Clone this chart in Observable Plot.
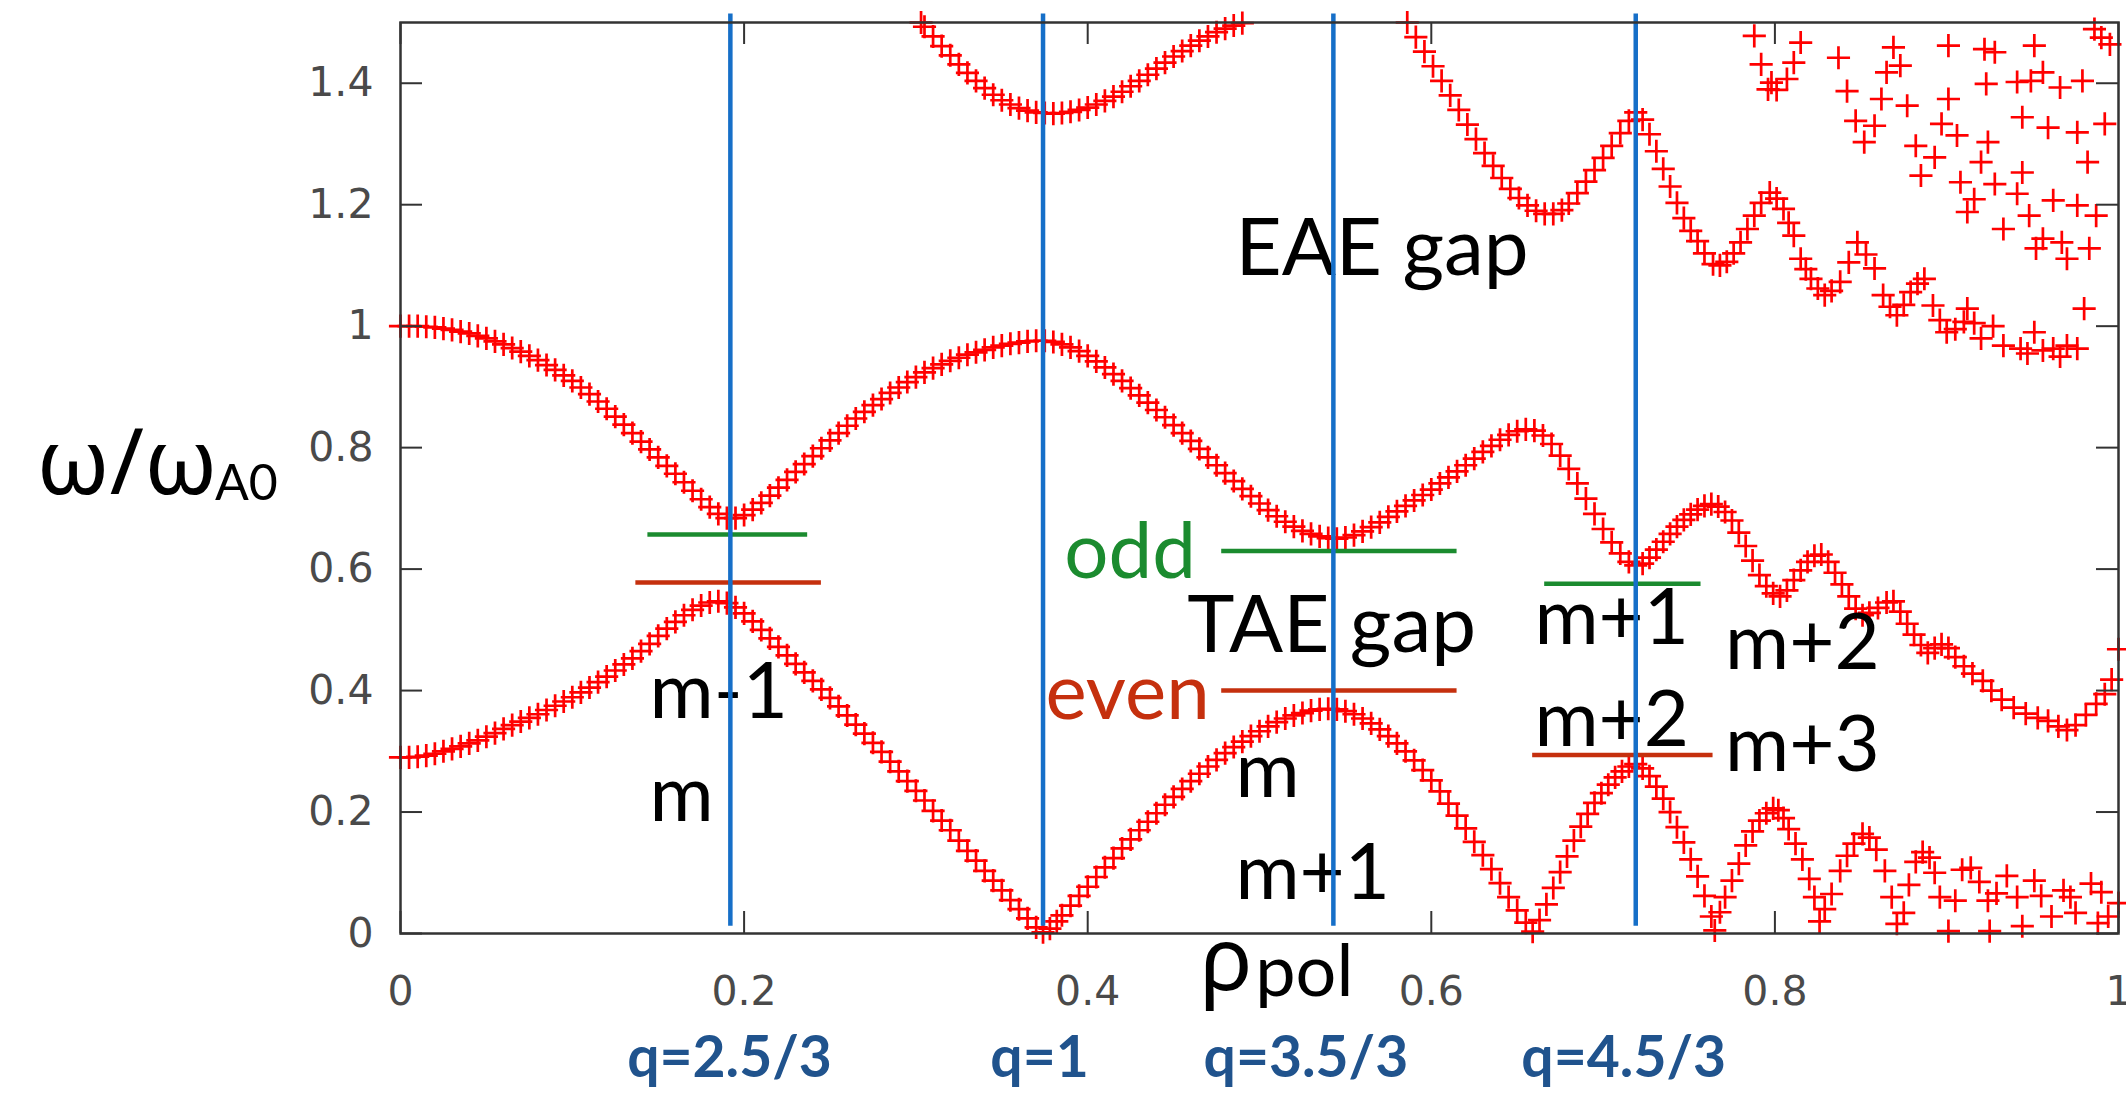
<!DOCTYPE html>
<html>
<head>
<meta charset="utf-8">
<script src="https://cdn.jsdelivr.net/npm/d3@7"></script>
<script src="https://cdn.jsdelivr.net/npm/@observablehq/plot@0.6"></script>
<style>
  html, body { margin: 0; padding: 0; background: #fff; }
</style>
</head>
<body>
<div id="chart"></div>
<script>
// Shear Alfvén continuum: normalised frequency ω/ωA0 against ρpol, each [ρpol, ω/ωA0].

// lowest continuum branch (m / m-1 coupling, touching zero at q=1 and beyond)
const lowerBranch = [
  [0.000,0.290],[0.005,0.290],[0.010,0.291],[0.015,0.293],[0.020,0.296],[0.025,0.300],[0.030,0.304],[0.035,0.308],
  [0.040,0.313],[0.045,0.318],[0.050,0.324],[0.055,0.330],[0.060,0.337],[0.065,0.343],[0.070,0.349],[0.075,0.355],
  [0.080,0.361],[0.085,0.368],[0.090,0.375],[0.095,0.382],[0.100,0.389],[0.105,0.397],[0.110,0.405],[0.115,0.414],
  [0.120,0.423],[0.125,0.433],[0.130,0.443],[0.135,0.453],[0.140,0.465],[0.145,0.477],[0.150,0.490],[0.155,0.502],
  [0.160,0.513],[0.165,0.524],[0.170,0.533],[0.175,0.540],[0.180,0.545],[0.185,0.547],[0.190,0.544],[0.195,0.537],
  [0.200,0.527],[0.205,0.514],[0.210,0.500],[0.215,0.486],[0.220,0.472],[0.225,0.458],[0.230,0.444],[0.235,0.430],
  [0.240,0.416],[0.245,0.402],[0.250,0.388],[0.255,0.374],[0.260,0.359],[0.265,0.344],[0.270,0.329],[0.275,0.314],
  [0.280,0.299],[0.285,0.283],[0.290,0.267],[0.295,0.251],[0.300,0.235],[0.305,0.219],[0.310,0.202],[0.315,0.186],
  [0.320,0.170],[0.325,0.153],[0.330,0.136],[0.335,0.120],[0.340,0.103],[0.345,0.087],[0.350,0.071],[0.355,0.055],
  [0.360,0.040],[0.365,0.025],[0.370,0.010],[0.374,0.002],[0.378,0.008],[0.382,0.020],[0.385,0.030],[0.390,0.046],
  [0.395,0.062],[0.400,0.077],[0.405,0.093],[0.410,0.109],[0.415,0.124],[0.420,0.140],[0.425,0.155],[0.430,0.170],
  [0.435,0.184],[0.440,0.198],[0.445,0.212],[0.450,0.225],[0.455,0.238],[0.460,0.251],[0.465,0.263],[0.470,0.275],
  [0.475,0.286],[0.480,0.297],[0.485,0.307],[0.490,0.316],[0.495,0.325],[0.500,0.333],[0.505,0.341],[0.510,0.348],
  [0.515,0.354],[0.520,0.359],[0.525,0.363],[0.530,0.367],[0.535,0.369],[0.540,0.370],[0.545,0.369],[0.550,0.366],
  [0.555,0.361],[0.560,0.354],[0.565,0.346],[0.570,0.336],[0.575,0.325],[0.580,0.313],[0.585,0.300],[0.590,0.285],
  [0.595,0.269],[0.600,0.252],[0.605,0.234],[0.610,0.214],[0.615,0.194],[0.620,0.173],[0.625,0.151],[0.630,0.129],
  [0.635,0.106],[0.640,0.083],[0.645,0.060],[0.650,0.038],[0.655,0.018],[0.659,0.003],[0.663,0.022],[0.667,0.048],
  [0.671,0.075],[0.675,0.101],[0.679,0.127],[0.683,0.153],[0.687,0.176],[0.691,0.197],[0.695,0.215],[0.699,0.231],
  [0.703,0.245],[0.707,0.257],[0.711,0.267],[0.715,0.275],[0.719,0.279],[0.723,0.272],[0.727,0.259],[0.731,0.242],
  [0.735,0.222],[0.739,0.200],[0.743,0.175],[0.747,0.150],[0.751,0.122],[0.755,0.094],[0.759,0.062],[0.763,0.028],
  [0.765,0.005],[0.768,0.035],[0.771,0.060],[0.775,0.087],[0.779,0.115],[0.783,0.145],[0.787,0.168],[0.791,0.186],
  [0.795,0.198],[0.799,0.206],[0.802,0.203],[0.805,0.190],[0.808,0.172],[0.812,0.148],[0.816,0.122],[0.820,0.090],
  [0.823,0.060],[0.826,0.020],[0.829,0.040],[0.833,0.065],[0.838,0.103],[0.842,0.128],[0.846,0.148],[0.851,0.164],
  [0.855,0.158],[0.859,0.138],[0.864,0.103],[0.868,0.060],[0.871,0.016],[0.875,0.034],[0.878,0.080],[0.882,0.118],
  [0.886,0.134],[0.890,0.125],[0.893,0.100],[0.896,0.060],[0.901,0.004],[0.905,0.054],[0.909,0.105],[0.914,0.108],
  [0.919,0.085],[0.924,0.054],[0.925,0.004],[0.929,0.066],[0.935,0.095],[0.941,0.060],[0.944,0.012],[0.951,0.087],
  [0.955,0.062],[0.961,0.028],[0.968,0.071],[0.972,0.060],[0.975,0.034],[0.984,0.082],[0.988,0.017],[0.990,0.068],
  [0.994,0.028],[1.000,0.050]
];

// middle branch (TAE gap upper boundary, wiggling towards the edge)
const middleBranch = [
  [0.000,1.000],[0.005,1.000],[0.010,1.000],[0.015,0.999],[0.020,0.998],[0.025,0.996],[0.030,0.994],[0.035,0.991],
  [0.040,0.988],[0.045,0.984],[0.050,0.980],[0.055,0.975],[0.060,0.970],[0.065,0.964],[0.070,0.958],[0.075,0.951],
  [0.080,0.944],[0.085,0.936],[0.090,0.928],[0.095,0.919],[0.100,0.910],[0.105,0.899],[0.110,0.888],[0.115,0.876],
  [0.120,0.864],[0.125,0.851],[0.130,0.838],[0.135,0.824],[0.140,0.810],[0.145,0.797],[0.150,0.784],[0.155,0.770],
  [0.160,0.757],[0.165,0.743],[0.170,0.729],[0.175,0.715],[0.180,0.702],[0.185,0.691],[0.190,0.684],[0.195,0.684],
  [0.200,0.689],[0.205,0.698],[0.210,0.709],[0.215,0.721],[0.220,0.734],[0.225,0.747],[0.230,0.760],[0.235,0.773],
  [0.240,0.786],[0.245,0.799],[0.250,0.812],[0.255,0.824],[0.260,0.836],[0.265,0.848],[0.270,0.859],[0.275,0.870],
  [0.280,0.880],[0.285,0.890],[0.290,0.899],[0.295,0.908],[0.300,0.916],[0.305,0.924],[0.310,0.931],[0.315,0.937],
  [0.320,0.943],[0.325,0.948],[0.330,0.953],[0.335,0.957],[0.340,0.961],[0.345,0.965],[0.350,0.968],[0.355,0.971],
  [0.360,0.973],[0.365,0.975],[0.370,0.976],[0.375,0.976],[0.380,0.974],[0.385,0.970],[0.390,0.965],[0.395,0.959],
  [0.400,0.951],[0.405,0.942],[0.410,0.932],[0.415,0.921],[0.420,0.910],[0.425,0.898],[0.430,0.886],[0.435,0.874],
  [0.440,0.862],[0.445,0.850],[0.450,0.837],[0.455,0.824],[0.460,0.811],[0.465,0.798],[0.470,0.784],[0.475,0.771],
  [0.480,0.758],[0.485,0.745],[0.490,0.732],[0.495,0.720],[0.500,0.708],[0.505,0.697],[0.510,0.687],[0.515,0.678],
  [0.520,0.670],[0.525,0.663],[0.530,0.658],[0.535,0.654],[0.540,0.651],[0.545,0.650],[0.550,0.652],[0.555,0.656],
  [0.560,0.662],[0.565,0.669],[0.570,0.677],[0.575,0.686],[0.580,0.695],[0.585,0.704],[0.590,0.713],[0.595,0.722],
  [0.600,0.731],[0.605,0.741],[0.610,0.751],[0.615,0.761],[0.620,0.771],[0.625,0.782],[0.630,0.793],[0.635,0.803],
  [0.640,0.813],[0.645,0.821],[0.650,0.827],[0.655,0.830],[0.660,0.828],[0.665,0.820],[0.670,0.806],[0.675,0.787],
  [0.680,0.765],[0.685,0.741],[0.690,0.716],[0.695,0.691],[0.700,0.666],[0.705,0.644],[0.710,0.626],[0.715,0.612],
  [0.719,0.606],[0.723,0.609],[0.727,0.619],[0.731,0.632],[0.735,0.645],[0.739,0.658],[0.743,0.670],[0.747,0.681],
  [0.751,0.690],[0.755,0.698],[0.759,0.704],[0.763,0.707],[0.767,0.703],[0.771,0.694],[0.775,0.680],[0.779,0.660],
  [0.783,0.638],[0.787,0.614],[0.791,0.590],[0.795,0.572],[0.799,0.560],[0.803,0.555],[0.807,0.565],[0.811,0.582],
  [0.815,0.598],[0.819,0.612],[0.823,0.622],[0.827,0.624],[0.831,0.612],[0.835,0.594],[0.839,0.575],[0.843,0.555],
  [0.847,0.535],[0.851,0.524],[0.855,0.528],[0.860,0.536],[0.865,0.545],[0.869,0.547],[0.873,0.530],[0.877,0.510],
  [0.881,0.492],[0.885,0.475],[0.889,0.462],[0.893,0.470],[0.897,0.476],[0.901,0.470],[0.905,0.455],[0.910,0.440],
  [0.915,0.428],[0.921,0.416],[0.926,0.400],[0.932,0.385],[0.939,0.372],[0.946,0.362],[0.953,0.355],[0.959,0.350],
  [0.965,0.341],[0.970,0.335],[0.975,0.343],[0.981,0.360],[0.987,0.378],[0.992,0.394],[0.996,0.418],[1.000,0.468]
];

// upper branch around q=1
const upperBranch = [
  [0.303,1.500],[0.305,1.493],[0.310,1.477],[0.315,1.461],[0.320,1.446],[0.325,1.431],[0.330,1.417],[0.335,1.404],
  [0.340,1.392],[0.345,1.381],[0.350,1.372],[0.355,1.365],[0.360,1.359],[0.365,1.355],[0.370,1.352],[0.375,1.351],
  [0.380,1.350],[0.385,1.351],[0.390,1.353],[0.395,1.356],[0.400,1.360],[0.405,1.365],[0.410,1.371],[0.415,1.378],
  [0.420,1.386],[0.425,1.395],[0.430,1.404],[0.435,1.414],[0.440,1.424],[0.445,1.434],[0.450,1.444],[0.455,1.453],
  [0.460,1.462],[0.465,1.470],[0.470,1.477],[0.475,1.484],[0.480,1.490],[0.485,1.495],[0.490,1.499]
];

// EAE gap upper boundary, outer region
const eaeBranch = [
  [0.586,1.500],[0.591,1.476],[0.596,1.452],[0.601,1.428],[0.606,1.404],[0.611,1.380],[0.616,1.356],[0.621,1.332],
  [0.626,1.308],[0.631,1.285],[0.636,1.264],[0.641,1.244],[0.646,1.226],[0.651,1.211],[0.656,1.199],[0.661,1.190],
  [0.666,1.185],[0.671,1.185],[0.676,1.191],[0.680,1.202],[0.685,1.219],[0.690,1.238],[0.695,1.257],
  [0.700,1.277],[0.705,1.297],[0.710,1.318],[0.715,1.338],[0.719,1.352],[0.723,1.340],[0.727,1.316],[0.731,1.288],
  [0.735,1.259],[0.739,1.230],[0.743,1.203],[0.747,1.178],[0.751,1.157],[0.755,1.140],[0.759,1.120],[0.764,1.102],
  [0.768,1.100],[0.772,1.106],[0.776,1.120],[0.780,1.138],[0.784,1.160],[0.788,1.182],[0.792,1.203],[0.797,1.220],
  [0.801,1.210],[0.805,1.193],[0.808,1.170],[0.811,1.149],[0.815,1.111],[0.818,1.094],[0.821,1.078],[0.825,1.062],
  [0.829,1.051],[0.833,1.058],[0.838,1.073],[0.843,1.105],[0.848,1.138],[0.853,1.118],[0.858,1.095],[0.863,1.051],
  [0.867,1.032],[0.871,1.018],[0.875,1.035],[0.879,1.056],[0.883,1.070],[0.887,1.078],[0.892,1.034],[0.896,1.010],
  [0.900,0.990],[0.905,0.995],[0.910,1.007],[0.912,1.029],[0.916,1.005],[0.920,0.980],[0.927,1.000],[0.933,0.968],
  [0.943,0.963],[0.947,0.955],[0.951,0.990],[0.956,0.960],[0.962,0.963],[0.966,0.950],[0.970,0.968],[0.976,0.963],
  [0.980,1.029]
];

// scattered high-frequency eigenvalues near the edge
const outerScatter = [
  [0.788,1.478],[0.815,1.467],[0.792,1.431],[0.811,1.434],[0.798,1.401],[0.807,1.407],[0.801,1.389],[0.796,1.390],
  [0.837,1.442],[0.842,1.387],[0.869,1.459],[0.873,1.429],[0.865,1.418],[0.862,1.374],[0.877,1.363],[0.901,1.462],
  [0.901,1.374],[0.922,1.456],[0.928,1.451],[0.951,1.462],[0.986,1.489],[0.990,1.475],[0.995,1.464],[0.923,1.399],
  [0.941,1.402],[0.949,1.404],[0.956,1.418],[0.966,1.393],[0.979,1.404],[0.847,1.338],[0.858,1.330],[0.852,1.303],
  [0.897,1.333],[0.906,1.314],[0.882,1.297],[0.893,1.278],[0.924,1.303],[0.944,1.344],[0.959,1.327],[0.976,1.319],
  [0.992,1.333],[0.982,1.270],[0.885,1.248],[0.908,1.237],[0.920,1.270],[0.928,1.234],[0.944,1.253],[0.916,1.209],
  [0.912,1.188],[0.941,1.218],[0.962,1.207],[0.976,1.199],[0.987,1.182],[0.948,1.182],[0.933,1.160],[0.956,1.144],
  [0.952,1.128],[0.967,1.138],[0.970,1.111],[0.983,1.128]
];

// rational surfaces
const rationalSurfaces = [0.192, 0.374, 0.543, 0.719];
const qLabels = ["q=2.5/3", "q=1", "q=3.5/3", "q=4.5/3"];
const qLabelRho = [0.1915, 0.372, 0.527, 0.712];

// gap edges: odd (upper) and even (lower) frequencies with their radial extent
const oddGapOmega = [0.657, 0.630, 0.576];
const oddGapFrom = [0.144, 0.478, 0.666];
const oddGapTo = [0.237, 0.615, 0.757];
const evenGapOmega = [0.578, 0.400, 0.294];
const evenGapFrom = [0.137, 0.478, 0.659];
const evenGapTo = [0.245, 0.615, 0.764];

// poloidal mode annotations
const modeText = ["m-1", "m", "m", "m+1", "m+1", "m+2", "m+2", "m+3"];
const modeRho = [0.145, 0.145, 0.486, 0.486, 0.660, 0.660, 0.771, 0.771];
const modeOmega = [0.355, 0.186, 0.2245, 0.0575, 0.476, 0.309, 0.435, 0.268];

const gapText = ["EAE gap", "TAE gap"];
const gapRho = [0.486, 0.458];
const gapOmega = [1.084, 0.463];

const xTicks = [0, 0.2, 0.4, 0.6, 0.8, 1];
const yTicks = [0, 0.2, 0.4, 0.6, 0.8, 1, 1.2, 1.4];

// ---- tables for the marks ----
const spectrum = [lowerBranch, middleBranch, upperBranch, eaeBranch, outerScatter]
  .flat().map(([rho, omega]) => ({rho, omega}));
const oddGaps = oddGapOmega.map((omega, i) => ({omega, rho1: oddGapFrom[i], rho2: oddGapTo[i]}));
const evenGaps = evenGapOmega.map((omega, i) => ({omega, rho1: evenGapFrom[i], rho2: evenGapTo[i]}));
const modes = modeText.map((text, i) => ({text, rho: modeRho[i], omega: modeOmega[i]}));
const gaps = gapText.map((text, i) => ({text, rho: gapRho[i], omega: gapOmega[i]}));
const qMarks = qLabels.map((text, i) => ({text, rho: qLabelRho[i]}));

const W = 2126, H = 1097;
const M = {top: 22, right: 8, bottom: 164, left: 400};
const yPerPx = 1.5 / (H - M.top - M.bottom);
const xPerPx = 1 / (W - M.left - M.right);
const tickLen = 22;

const RED = "#ff0000", BLUE = "#166fc8", GREEN = "#1b8b2f", BROWN = "#c5300e", QBLUE = "#20538d";
const LABEL_FONT = "Lato, 'Open Sans', sans-serif";
const GREEK_FONT = "'Noto Sans', 'DejaVu Sans', sans-serif";
const TICK_FONT = "'DejaVu Sans', sans-serif";

const chart = Plot.plot({
  width: W, height: H,
  marginTop: M.top, marginRight: M.right, marginBottom: M.bottom, marginLeft: M.left,
  style: {background: "#fff"},
  x: {domain: [0, 1]},
  y: {domain: [0, 1.5]},
  marks: [
    // tick labels (tick marks are drawn inward below)
    Plot.axisX({ticks: xTicks, tickSize: 0, tickPadding: 42, tickFormat: d => String(d), label: null,
      fontSize: 41, fontFamily: TICK_FONT, fill: "#4a4a4a"}),
    Plot.axisY({ticks: yTicks, tickSize: 0, tickPadding: 27, tickFormat: d => String(d), label: null,
      fontSize: 41, fontFamily: TICK_FONT, fill: "#4a4a4a"}),

    // continuum eigenvalues
    Plot.dot(spectrum, {x: "rho", y: "omega", symbol: "plus", r: 7.5, stroke: RED, strokeWidth: 2.7}),

    // gap edges
    Plot.ruleY(oddGaps, {y: "omega", x1: "rho1", x2: "rho2", stroke: GREEN, strokeWidth: 4.5}),
    Plot.ruleY(evenGaps, {y: "omega", x1: "rho1", x2: "rho2", stroke: BROWN, strokeWidth: 4.5}),

    // annotations
    Plot.text(modes, {x: "rho", y: "omega", text: "text", textAnchor: "start", lineAnchor: "bottom",
      fontSize: 78, fontFamily: LABEL_FONT, fill: "#000"}),
    Plot.text(gaps, {x: "rho", y: "omega", text: "text", textAnchor: "start", lineAnchor: "bottom",
      fontSize: 80, fontFamily: LABEL_FONT, fill: "#000"}),
    Plot.text(["odd"], {x: 0.463, y: 0.586, text: d => d, textAnchor: "end", lineAnchor: "bottom",
      fontSize: 78, fontFamily: LABEL_FONT, fill: GREEN}),
    Plot.text(["even"], {x: 0.471, y: 0.353, text: d => d, textAnchor: "end", lineAnchor: "bottom",
      fontSize: 78, fontFamily: LABEL_FONT, fill: BROWN}),

    // rational surfaces
    Plot.ruleX(rationalSurfaces, {x: d => d, y1: 0.012, y2: 1.514, stroke: BLUE, strokeWidth: 4.5}),
    Plot.text(qMarks, {x: "rho", y: -0.237, text: "text", textAnchor: "middle", lineAnchor: "bottom",
      fontSize: 57, fontWeight: "bold", fontFamily: LABEL_FONT, fill: QBLUE}),

    // axis titles
    Plot.text(["ω/ω"], {x: -0.1065, y: 0.723, text: d => d, textAnchor: "end", lineAnchor: "bottom",
      fontSize: 92, fontFamily: GREEK_FONT, fill: "#000"}),
    Plot.text(["A0"], {x: -0.1080, y: 0.713, text: d => d, textAnchor: "start", lineAnchor: "bottom",
      fontSize: 50, fontFamily: LABEL_FONT, fill: "#000"}),
    Plot.text(["ρ"], {x: 0.496, y: -0.0925, text: d => d, textAnchor: "end", lineAnchor: "bottom",
      fontSize: 88, fontFamily: GREEK_FONT, fill: "#000"}),
    Plot.text(["pol"], {x: 0.4975, y: -0.1035, text: d => d, textAnchor: "start", lineAnchor: "bottom",
      fontSize: 72, fontFamily: LABEL_FONT, fill: "#000"}),

    // inward ticks on all four sides
    Plot.ruleX(xTicks, {x: d => d, y1: 0, y2: tickLen * yPerPx, stroke: "#333", strokeWidth: 2}),
    Plot.ruleX(xTicks, {x: d => d, y1: 1.5 - tickLen * yPerPx, y2: 1.5, stroke: "#333", strokeWidth: 2}),
    Plot.ruleY(yTicks, {y: d => d, x1: 0, x2: tickLen * xPerPx, stroke: "#333", strokeWidth: 2}),
    Plot.ruleY(yTicks, {y: d => d, x1: 1 - tickLen * xPerPx, x2: 1, stroke: "#333", strokeWidth: 2}),

    Plot.frame({stroke: "#333", strokeWidth: 2.5})
  ]
});

document.getElementById("chart").appendChild(chart);
</script>
</body>
</html>
